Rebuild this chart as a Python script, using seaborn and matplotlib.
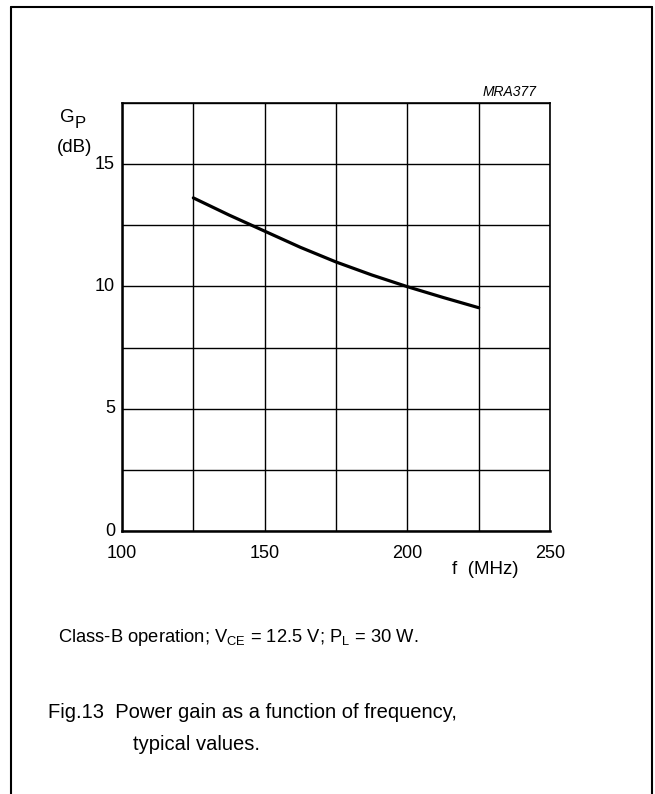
import matplotlib
matplotlib.use("Agg")
import matplotlib.pyplot as plt
import seaborn as sns
import pandas as pd
from matplotlib.lines import Line2D
from matplotlib.ticker import MultipleLocator

# ---- data ----
freq_mhz = [125, 137.5, 150, 162.5, 175, 187.5, 200, 212.5, 225]
gain_db = [13.62, 12.92, 12.26, 11.60, 11.00, 10.47, 9.99, 9.55, 9.13]
xtick_major = [100, 150, 200, 250]
ytick_major = [0, 5, 10, 15]

sns.set_theme(style="white")
plt.rcParams['font.family'] = ['Liberation Sans', 'DejaVu Sans']
plt.rcParams['mathtext.fontset'] = 'custom'
plt.rcParams['mathtext.rm'] = 'Liberation Sans'
plt.rcParams['mathtext.it'] = 'Liberation Sans:italic'
plt.rcParams['text.color'] = 'black'
plt.rcParams['xtick.color'] = 'black'
plt.rcParams['ytick.color'] = 'black'
plt.rcParams['axes.labelcolor'] = 'black'

W, H = 655, 794
fig = plt.figure(figsize=(W / 100, H / 100), dpi=100)
fig.patch.set_facecolor('white')

def fx(px):
    return px / W

def fy(py):
    return 1 - py / H

left, right, top, bottom = 122, 550, 103, 531
ax = fig.add_axes([fx(left), fy(bottom), fx(right - left), (bottom - top) / H])

df = pd.DataFrame({"f": freq_mhz, "G": gain_db})
sns.lineplot(data=df, x="f", y="G", ax=ax, color="black", linewidth=2.3)

ax.set_xlim(100, 250)
ax.set_ylim(0, 17.5)
ax.xaxis.set_major_locator(plt.FixedLocator(xtick_major))
ax.xaxis.set_minor_locator(MultipleLocator(25))
ax.yaxis.set_major_locator(plt.FixedLocator(ytick_major))
ax.yaxis.set_minor_locator(MultipleLocator(2.5))
ax.grid(True, which='both', color='black', linewidth=1.0)
ax.set_axisbelow(True)
ax.set_xlabel("")
ax.set_ylabel("")

ax.tick_params(axis='x', which='both', length=0, pad=10, labelsize=13, colors='black')
ax.tick_params(axis='y', which='major', direction='in', length=6, width=1.8,
               pad=5, labelsize=13, colors='black')
ax.tick_params(axis='y', which='minor', length=0)
for lab in ax.get_yticklabels():
    lab.set_verticalalignment('center')

for side in ['left', 'bottom']:
    ax.spines[side].set_linewidth(1.8)
    ax.spines[side].set_color('black')
for side in ['top', 'right']:
    ax.spines[side].set_linewidth(1.2)
    ax.spines[side].set_color('black')

# axis labels
fig.text(fx(75), fy(118), "G", ha='right', va='center', fontsize=13.5)
fig.text(fx(75), fy(123), "P", ha='left', va='center', fontsize=12)
fig.text(fx(75), fy(147), "(dB)", ha='center', va='center', fontsize=13.5)
fig.text(fx(485), fy(569), "f  (MHz)", ha='center', va='center', fontsize=13.5)
fig.text(fx(537), fy(92), "MRA377", ha='right', va='center', fontsize=10, style='italic')

# notes
fig.text(fx(58), fy(637), r"Class-B operation; V$_{\mathrm{CE}}$ = 12.5 V; P$_{\mathrm{L}}$ = 30 W.",
         ha='left', va='center', fontsize=13.2)
fig.text(fx(48), fy(713), "Fig.13  Power gain as a function of frequency,",
         ha='left', va='center', fontsize=14.5)
fig.text(fx(133), fy(744), "typical values.", ha='left', va='center', fontsize=14.5)

# frame border
bx0, bx1, by0 = 11, 652, 7
fig.add_artist(Line2D([fx(bx0), fx(bx0)], [fy(by0), 0], color='black', linewidth=1.5,
                      transform=fig.transFigure))
fig.add_artist(Line2D([fx(bx0), fx(bx1)], [fy(by0), fy(by0)], color='black', linewidth=1.5,
                      transform=fig.transFigure))
fig.add_artist(Line2D([fx(bx1), fx(bx1)], [fy(by0), 0], color='black', linewidth=1.5,
                      transform=fig.transFigure))

fig.savefig("out.png", dpi=100)
